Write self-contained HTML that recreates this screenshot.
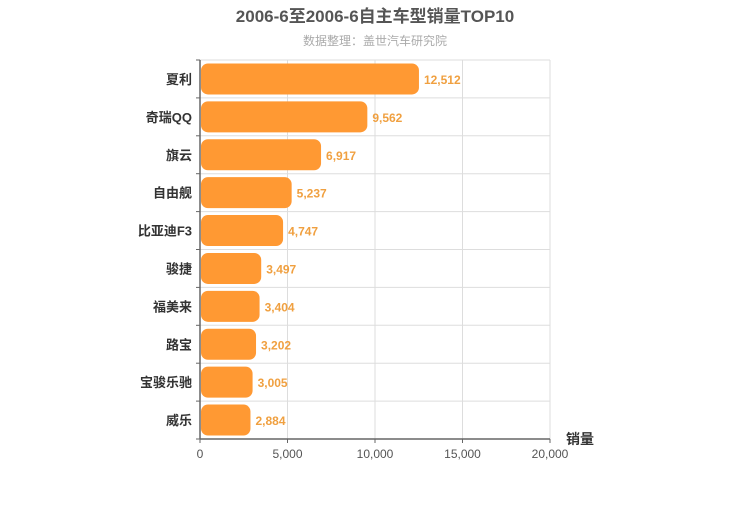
<!DOCTYPE html>
<html><head><meta charset="utf-8"><style>
body{margin:0;background:#fff;width:750px;height:500px;overflow:hidden}
svg text{font-family:"Liberation Sans","Noto Sans CJK SC",sans-serif}
</style></head><body>
<svg id="c" width="750" height="500">
<text x="375" y="22" text-anchor="middle" font-size="17" font-weight="bold" fill="#555">2006-6至2006-6自主车型销量TOP10</text>
<text x="375" y="45" text-anchor="middle" font-size="12" fill="#aaa">数据整理：盖世汽车研究院</text>
<g id="grid"></g><g id="bars"></g><g id="axes"></g>
<text x="580" y="444" text-anchor="middle" font-size="14" font-weight="bold" fill="#333">销量</text>
</svg>
<script>
const categories=["夏利","奇瑞QQ","旗云","自由舰","比亚迪F3","骏捷","福美来","路宝","宝骏乐驰","威乐"];
const values=[12512,9562,6917,5237,4747,3497,3404,3202,3005,2884];
const ticks=[0,5000,10000,15000,20000];
const tickLabels=["0","5,000","10,000","15,000","20,000"];
const X0=200,X1=550,Y0=60,Y1=439,MAX=20000;
const ns="http://www.w3.org/2000/svg";
const x=v=>X0+(v/MAX)*(X1-X0);
const rh=(Y1-Y0)/categories.length;
const y=i=>Y0+i*rh;
function mk(t,a,p){const e=document.createElementNS(ns,t);for(const k in a)e.setAttribute(k,a[k]);p.appendChild(e);return e;}
const grid=document.getElementById('grid'),bars=document.getElementById('bars'),axes=document.getElementById('axes');
ticks.forEach((t,i)=>{
 if(i>0){const l=mk('line',{x1:x(t),x2:x(t),y1:Y0,y2:Y1,stroke:'#ddd'},grid);
 
 }
 const tk=mk('line',{x1:x(t),x2:x(t),y1:Y1,y2:Y1+4,stroke:'#666'},axes);
 
 
 const tx=mk('text',{x:x(t),y:Y1+19,'text-anchor':'middle','font-size':12,fill:'#555'},axes);
 tx.textContent=tickLabels[i];
 
 
});
for(let i=0;i<=categories.length;i++){
 const l=mk('line',{x1:X0,x2:X1,y1:y(i),y2:y(i),stroke:'#ddd'},grid);
 
 
 const tk=mk('line',{x1:X0-4,x2:X0,y1:y(i),y2:y(i),stroke:'#666'},axes);
 
 
}
categories.forEach((c,i)=>{
 const cy=y(i)+rh/2;
 const r=mk('rect',{x:X0+1,y:cy-15.5,width:x(values[i])-X0-1,height:31,rx:7,fill:'#ff9933'},bars);
 
 
 const v=mk('text',{x:x(values[i])+5,y:cy+5,'font-size':12,'font-weight':'bold',fill:'#f0a040'},bars);
 v.textContent=values[i].toLocaleString('en-US');
 
 
 const t=mk('text',{x:X0-8,y:cy+5,'text-anchor':'end','font-size':13,'font-weight':'bold',fill:'#333'},axes);
 t.textContent=c;
 
 
});
const ax=mk('line',{x1:X0,x2:X1,y1:Y1,y2:Y1,stroke:'#666','stroke-width':1.5},axes);


const ay=mk('line',{x1:X0,x2:X0,y1:Y0,y2:Y1,stroke:'#666','stroke-width':1.5},axes);


</script>
</body></html>
